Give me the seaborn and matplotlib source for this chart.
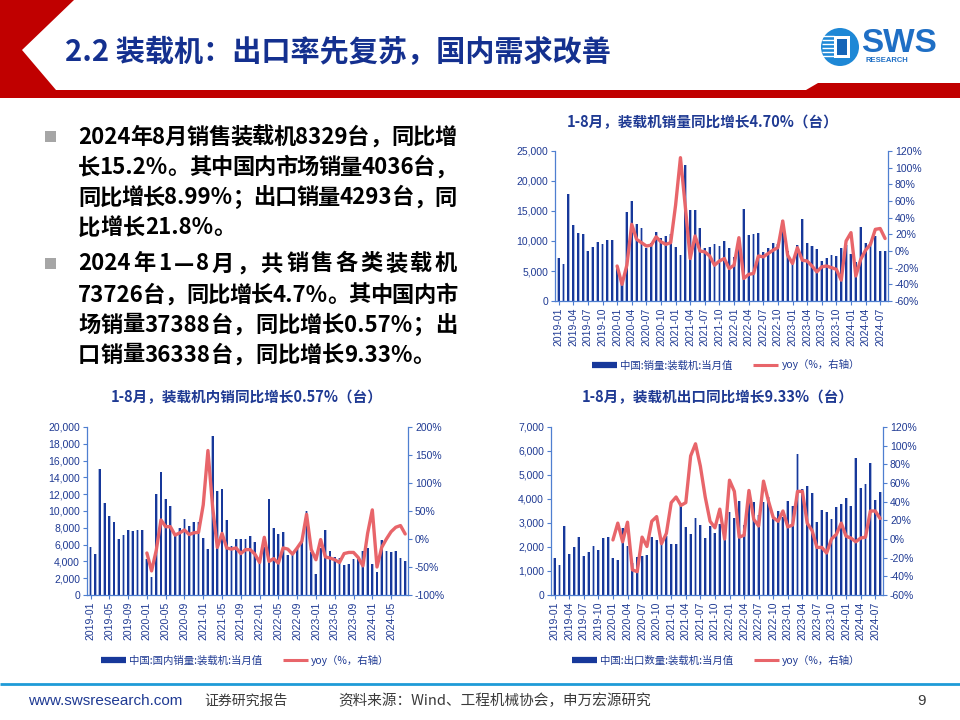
import numpy as np
import pandas as pd
import matplotlib
matplotlib.use("Agg")
import matplotlib.pyplot as plt
import seaborn as sns
from matplotlib.patches import Polygon, Rectangle, Circle
from matplotlib.lines import Line2D

# ---------------- data ----------------
months = [f"{y}-{m:02d}" for y in range(2019, 2025) for m in range(1, 13)][:68]

total_sales = [
    7240, 6160, 17890, 12670, 11360, 11150, 8310, 8980, 9810, 9520, 10140, 10200,
    5780, 3610, 14830, 16710, 12800, 12200, 8800, 9630, 11470, 10550, 10900, 11170,
    8955, 7645, 22720, 15240, 15160, 12160, 8790, 9060, 9560, 9250, 9920, 8800,
    7400, 8900, 15290, 10940, 11095, 11415, 8130, 8780, 9670, 9580, 13550, 8360,
    6390, 9300, 13660, 9700, 9100, 8610, 6600, 7230, 7710, 7500, 8870, 9410,
    7790, 6500, 12290, 9750, 9800, 10780, 8380, 8329]

domestic_sales = [
    5700, 4900, 15000, 10950, 9360, 8730, 6700, 7180, 7780, 7660, 7780, 7780,
    4250, 2140, 12020, 14680, 11455, 10620, 7160, 7980, 9050, 8250, 8670, 8730,
    6830, 5520, 18890, 12420, 12620, 8970, 5870, 6670, 6670, 6670, 6980, 6360,
    3930, 5690, 11390, 8020, 7220, 7540, 4800, 4900, 5600, 6400, 10040, 5100,
    2460, 5610, 7780, 5280, 4560, 4370, 3570, 3703, 4250, 4320, 5200, 5600,
    3730, 2780, 6590, 5280, 5160, 5280, 4440, 4036]

export_sales = [
    1540, 1260, 2890, 1720, 2000, 2420, 1610, 1800, 2030, 1860, 2360, 2420,
    1530, 1470, 2810, 2030, 1345, 1580, 1640, 1650, 2420, 2300, 2230, 2440,
    2125, 2125, 3830, 2820, 2540, 3190, 2920, 2390, 2890, 2580, 2940, 2440,
    3470, 3210, 3900, 2920, 3875, 3875, 3330, 3875, 4070, 3180, 3510, 3260,
    3930, 3690, 5880, 4420, 4540, 4240, 3030, 3525, 3460, 3180, 3670, 3810,
    4060, 3720, 5700, 4470, 4640, 5500, 3940, 4293]

# yoy (%) from 2020-01
total_yoy = [
    -18, -40, -17, 32, 14, 10, 6, 7, 17, 11, 8, 10,
    55, 112, 53, -9, 18, 0, -1, -6, -17, -12, -9, -21,
    -17, 16, -33, -28, -27, -6, -7, -3, 1, 4, 36, -5,
    -15, 4, -11, -12, -18, -25, -19, -18, -20, -22, -35, 12,
    22, -30, -10, 1, 8, 26, 27, 15]

domestic_yoy = [
    -25, -57, -20, 34, 22, 22, 7, 11, 16, 8, 11, 12,
    61, 158, 57, -15, 10, -16, -18, -16, -26, -19, -19, -27,
    -42, 3, -40, -35, -43, -16, -18, -27, -16, -4, 44, -19,
    -37, -1, -32, -34, -37, -42, -26, -24, -24, -33, -48, 10,
    52, -50, -15, 0, 13, 21, 24, 9]

export_yoy = [
    -1, 17, -3, 18, -33, -35, 2, -8, 19, 24, -5, 6,
    39, 45, 36, 39, 89, 102, 78, 45, 19, 12, 32, 0,
    63, 51, 2, 4, 52, 21, 14, 62, 41, 23, 19, 30,
    13, 15, 51, 51, 17, 9, -9, -9, -15, 0, 5, 17,
    3, 1, -3, 1, 2, 30, 30, 22]

# ---------------- style ----------------
sns.set_style("ticks")
plt.rcParams["font.family"] = ["Noto Sans CJK SC", "DejaVu Sans"]
NUM_FONT = ["Liberation Sans", "DejaVu Sans"]

DARK = "#17389A"
PALE = "#A9B8DE"
RED = "#E8656A"
SPINE = "#4F7FD0"
NAVY = "#1F3A93"
TITLE_C = "#14308F"
HEAD_RED = "#C00000"

W, H = 960, 720
fig = plt.figure(figsize=(9.6, 7.2), dpi=100)
bg = fig.add_axes([0, 0, 1, 1])
bg.set_xlim(0, W)
bg.set_ylim(H, 0)
bg.axis("off")

# header
bg.add_patch(Polygon([(0, 0), (74, 0), (22, 50), (56, 90), (806, 90), (818, 83),
                      (960, 83), (960, 98), (0, 98)], closed=True, fc=HEAD_RED, ec="none"))
bg.text(65, 52, "2.2 装载机：出口率先复苏，国内需求改善", fontsize=21, fontweight="bold",
        color=TITLE_C, va="center", ha="left")

# logo
bg.add_patch(Circle((840, 47), 19, fc="#1E88D6", ec="none"))
bg.add_patch(Rectangle((834, 36), 16, 22, fc="white", ec="none"))
bg.add_patch(Rectangle((837, 39), 10, 16, fc="#1565B8", ec="none"))
for yy in range(36, 60, 4):
    bg.plot([822, 834], [yy, yy], color="white", lw=1.0, solid_capstyle="butt")
bg.text(861, 43, "SWS", fontsize=24, fontweight="bold", color="#1F6FC5", va="center",
        ha="left", family=NUM_FONT)
bg.text(866, 61, "RESEARCH", fontsize=5.5, fontweight="bold", color="#1F6FC5", va="center",
        ha="left", family=NUM_FONT)

# bullet text
renderer = fig.canvas.get_renderer()


def tokens(s):
    toks, buf = [], ""
    for ch in s:
        if ord(ch) < 128:
            buf += ch
        else:
            if buf:
                toks.append(buf)
                buf = ""
            toks.append(ch)
    if buf:
        toks.append(buf)
    return toks


def put_line(s, x0, x1, y, justify=True, **kw):
    toks = tokens(s)
    arts, widths = [], []
    for t in toks:
        a = bg.text(0, y, t, va="center", ha="left", **kw)
        widths.append(a.get_window_extent(renderer).width)
        arts.append(a)
    gap = 0.0
    if justify and len(toks) > 1:
        gap = max((x1 - x0 - sum(widths)) / (len(toks) - 1), -1.0)
    x = x0
    for a, w in zip(arts, widths):
        a.set_x(x)
        x += w + gap


para1 = ["2024年8月销售装载机8329台，同比增",
         "长15.2%。其中国内市场销量4036台，",
         "同比增长8.99%；出口销量4293台，同",
         "比增长21.8%。"]
para2 = ["2024年1—8月，共销售各类装载机",
         "73726台，同比增长4.7%。其中国内市",
         "场销量37388台，同比增长0.57%；出",
         "口销量36338台，同比增长9.33%。"]
kw = dict(fontsize=16, fontweight="bold", color="black")
for i, (s, y) in enumerate(zip(para1, [137, 168, 198, 228])):
    put_line(s, 78, 457, y, justify=(i < len(para1) - 1), **kw)
for i, (s, y) in enumerate(zip(para2, [264, 295, 325, 355])):
    put_line(s, 78, 457, y, justify=(i < len(para2) - 1), **kw)
bg.add_patch(Rectangle((45, 131), 11, 11, fc="#A6A6A6", ec="none"))
bg.add_patch(Rectangle((45, 258), 11, 11, fc="#A6A6A6", ec="none"))


# ---------------- charts ----------------
def chart(rect, values, yoy, ylim, ystep, rlim, rstep, xstep, title, title_xy,
          leg_label, leg_xy):
    x0, y0, x1, y1 = rect
    ax = fig.add_axes([x0 / W, 1 - y1 / H, (x1 - x0) / W, (y1 - y0) / H])
    pos = np.arange(len(months))
    bars = pd.DataFrame({"month": months, "pos": pos, "value": values})
    sns.barplot(data=bars, x="pos", y="value", native_scale=True,
                width=0.62, color=PALE, saturation=1, errorbar=None, ax=ax,
                linewidth=0, antialiased=False)
    sns.barplot(data=bars, x="pos", y="value", native_scale=True,
                width=0.38, color=DARK, saturation=1, errorbar=None, ax=ax,
                linewidth=0, antialiased=False)
    ax2 = ax.twinx()
    line = pd.DataFrame({"pos": pos[12:], "yoy": yoy})
    sns.lineplot(data=line, x="pos", y="yoy", ax=ax2, color=RED, linewidth=2.4,
                 solid_joinstyle="round", solid_capstyle="round")

    ax.set_ylim(*ylim)
    yt = np.arange(ylim[0], ylim[1] + 1, ystep)
    ax.set_yticks(yt)
    ax.set_yticklabels([f"{int(v):,}" for v in yt])
    ax2.set_ylim(*rlim)
    rt = np.arange(rlim[0], rlim[1] + 1, rstep)
    ax2.set_yticks(rt)
    ax2.set_yticklabels([f"{int(v)}%" for v in rt])
    xt = pos[::xstep]
    ax.set_xticks(xt)
    ax.set_xticklabels([months[i] for i in xt], rotation=90)
    ax.set_xlim(-0.75, len(months) - 0.4)

    for a in (ax, ax2):
        a.set_xlabel("")
        a.set_ylabel("")
        for s in a.spines.values():
            s.set_color(SPINE)
            s.set_linewidth(0.9)
        a.spines["top"].set_visible(False)
    ax.spines["right"].set_visible(False)
    ax2.spines["left"].set_visible(False)
    ax2.spines["bottom"].set_visible(False)
    ax.tick_params(axis="both", bottom=True, left=True, length=3, width=0.8, color=SPINE,
                   labelcolor=NAVY, labelsize=7.5, pad=2)
    ax2.tick_params(axis="y", right=True, length=3, width=0.8, color=SPINE,
                    labelcolor=NAVY, labelsize=7.5, pad=2)
    for lab in ax.get_xticklabels() + ax.get_yticklabels() + ax2.get_yticklabels():
        lab.set_fontfamily(NUM_FONT)

    bg.text(title_xy[0], title_xy[1], title, ha="center", va="center", fontsize=10.5,
            fontweight="bold", color=NAVY)
    handles = [Line2D([0], [0], color=DARK, lw=4.5, solid_capstyle="butt"),
               Line2D([0], [0], color=RED, lw=2.2, solid_capstyle="butt")]
    fig.legend(handles, [leg_label, "yoy（%，右轴）"], loc="center",
               bbox_to_anchor=(leg_xy[0] / W, 1 - leg_xy[1] / H), ncol=2, frameon=False,
               fontsize=7.5, handlelength=2.4, handletextpad=0.3, columnspacing=2.0,
               labelcolor=NAVY)


chart((555, 151, 888, 301), total_sales, total_yoy, (0, 25000), 5000, (-60, 120), 20, 3,
      "1-8月，装载机销量同比增长4.70%（台）", (703, 122),
      "中国:销量:装载机:当月值", (726, 365))
chart((87, 427, 408, 595), domestic_sales, domestic_yoy, (0, 20000), 2000, (-100, 200), 50, 4,
      "1-8月，装载机内销同比增长0.57%（台）", (247, 397),
      "中国:国内销量:装载机:当月值", (245, 660))
chart((551, 427, 883, 595), export_sales, export_yoy, (0, 7000), 1000, (-60, 120), 20, 3,
      "1-8月，装载机出口同比增长9.33%（台）", (718, 397),
      "中国:出口数量:装载机:当月值", (716, 660))

# ---------------- footer ----------------
bg.plot([0, 960], [684, 684], color="#1E9BD7", lw=2.0, solid_capstyle="butt")
bg.text(28, 701, "www.swsresearch.com", fontsize=11, color=NAVY, va="center", ha="left",
        family=NUM_FONT)
bg.text(204, 701, "证券研究报告", fontsize=10, color="#3A3A3A", va="center", ha="left")
bg.text(338, 701, "资料来源：Wind、工程机械协会，申万宏源研究", fontsize=10.5, color="#3A3A3A",
        va="center", ha="left")
bg.text(917, 701, "9", fontsize=11, color="#3A3A3A", va="center", ha="left", family=NUM_FONT)

fig.savefig("out.png", dpi=100)
